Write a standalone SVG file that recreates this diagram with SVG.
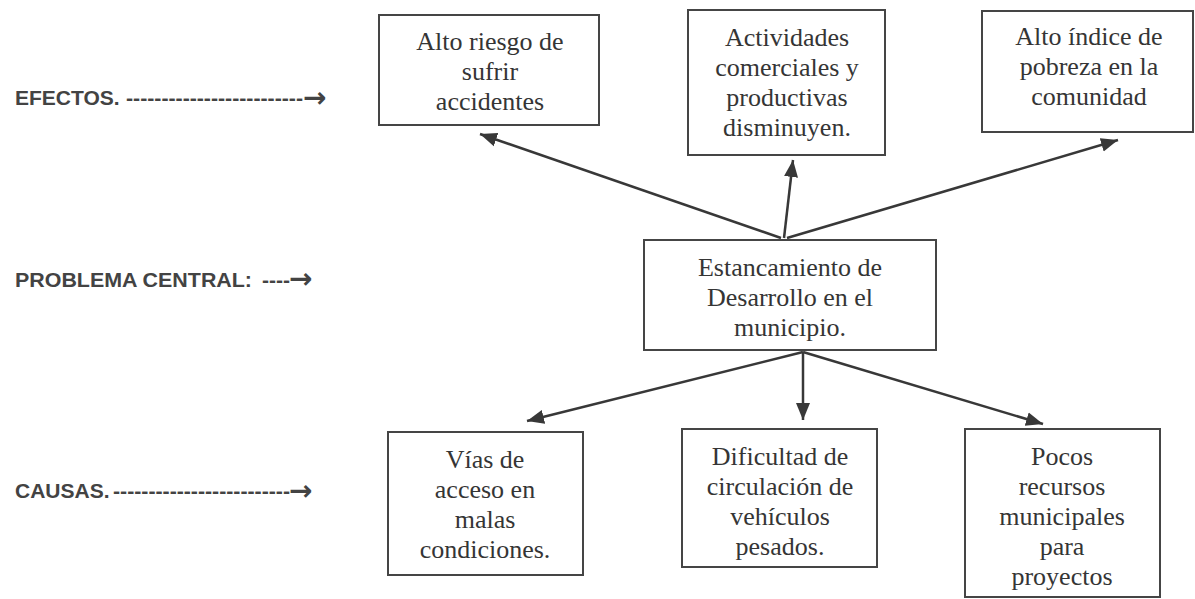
<svg xmlns="http://www.w3.org/2000/svg" width="1195" height="599" viewBox="0 0 1195 599">
<style>
  .box { fill: #ffffff; stroke: #454545; stroke-width: 2; }
  .t { font-family: "Liberation Serif", "Times New Roman", serif; font-size: 26px; fill: #353535; text-anchor: middle; }
  .lbl { font-family: "Liberation Sans", Arial, sans-serif; font-size: 21px; font-weight: bold; fill: #434343; }
  .arr { font-family: "DejaVu Sans", sans-serif; font-size: 28px; font-weight: bold; }
  .conn { stroke: #383838; stroke-width: 2.5; fill: none; marker-end: url(#ah); }
</style>
<defs>
  <marker id="ah" markerUnits="userSpaceOnUse" markerWidth="18" markerHeight="16" viewBox="0 0 18 16" refX="17" refY="8" orient="auto">
    <path d="M0,1 L17,8 L0,15 Z" fill="#383838"/>
  </marker>
</defs>
<rect width="1195" height="599" fill="#ffffff"/>

<g id="labels">
  <text class="lbl" y="105"><tspan x="15">EFECTOS.</tspan><tspan x="126" textLength="177" lengthAdjust="spacingAndGlyphs">-------------------------</tspan><tspan class="arr" x="303" y="107">→</tspan></text>
  <text class="lbl" y="287"><tspan x="15" textLength="237" lengthAdjust="spacingAndGlyphs">PROBLEMA CENTRAL:</tspan><tspan x="262" textLength="28" lengthAdjust="spacingAndGlyphs">----</tspan><tspan class="arr" x="289" y="288">→</tspan></text>
  <text class="lbl" y="498"><tspan x="15">CAUSAS.</tspan><tspan x="113" textLength="177" lengthAdjust="spacingAndGlyphs">-------------------------</tspan><tspan class="arr" x="289" y="500">→</tspan></text>
</g>

<g id="connectors">
  <line class="conn" x1="781" y1="238" x2="480" y2="134"/>
  <line class="conn" x1="784" y1="238" x2="793" y2="160"/>
  <line class="conn" x1="787" y1="238" x2="1118" y2="140"/>
  <line class="conn" x1="803" y1="352" x2="527" y2="421"/>
  <line class="conn" x1="803" y1="352" x2="803" y2="420"/>
  <line class="conn" x1="803" y1="352" x2="1043" y2="424"/>
</g>

<g id="efecto1">
  <rect class="box" x="379" y="15" width="220" height="110"/>
  <text class="t"><tspan x="490" y="50">Alto riesgo de</tspan><tspan x="490" y="80">sufrir</tspan><tspan x="490" y="110">accidentes</tspan></text>
</g>
<g id="efecto2">
  <rect class="box" x="688" y="10" width="197" height="145"/>
  <text class="t"><tspan x="787" y="46">Actividades</tspan><tspan x="787" y="76">comerciales y</tspan><tspan x="787" y="106">productivas</tspan><tspan x="787" y="136">disminuyen.</tspan></text>
</g>
<g id="efecto3">
  <rect class="box" x="982" y="11" width="211" height="121"/>
  <text class="t"><tspan x="1089" y="45">Alto índice de</tspan><tspan x="1089" y="75">pobreza en la</tspan><tspan x="1089" y="105">comunidad</tspan></text>
</g>

<g id="problema">
  <rect class="box" x="644" y="240" width="292" height="110"/>
  <text class="t"><tspan x="790" y="276">Estancamiento de</tspan><tspan x="790" y="306">Desarrollo en el</tspan><tspan x="790" y="336">municipio.</tspan></text>
</g>

<g id="causa1">
  <rect class="box" x="388" y="432" width="195" height="143"/>
  <text class="t"><tspan x="485" y="468">Vías de</tspan><tspan x="485" y="498">acceso en</tspan><tspan x="485" y="528">malas</tspan><tspan x="485" y="558">condiciones.</tspan></text>
</g>
<g id="causa2">
  <rect class="box" x="682" y="429" width="195" height="138"/>
  <text class="t"><tspan x="780" y="465">Dificultad de</tspan><tspan x="780" y="495">circulación de</tspan><tspan x="780" y="525">vehículos</tspan><tspan x="780" y="555">pesados.</tspan></text>
</g>
<g id="causa3">
  <rect class="box" x="965" y="429" width="195" height="168"/>
  <text class="t"><tspan x="1062" y="465">Pocos</tspan><tspan x="1062" y="495">recursos</tspan><tspan x="1062" y="525">municipales</tspan><tspan x="1062" y="555">para</tspan><tspan x="1062" y="585">proyectos</tspan></text>
</g>
</svg>
